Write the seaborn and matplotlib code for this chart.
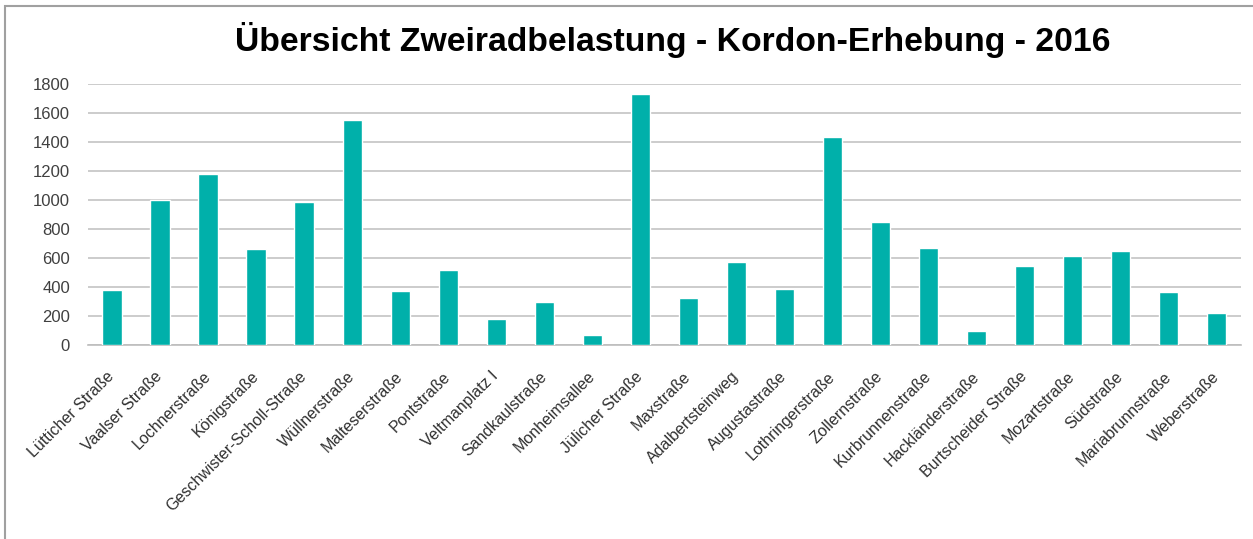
import matplotlib
matplotlib.use("Agg")
import matplotlib.pyplot as plt
import seaborn as sns
import pandas as pd
from matplotlib.patches import Rectangle
from matplotlib.ticker import FixedLocator

strassen = [
    "Lütticher Straße", "Vaalser Straße", "Lochnerstraße", "Königstraße",
    "Geschwister-Scholl-Straße", "Wüllnerstraße", "Malteserstraße", "Pontstraße",
    "Veltmanplatz I", "Sandkaulstraße", "Monheimsallee", "Jülicher Straße",
    "Maxstraße", "Adalbertsteinweg", "Augustastraße", "Lothringerstraße",
    "Zollernstraße", "Kurbrunnenstraße", "Hackländerstraße", "Burtscheider Straße",
    "Mozartstraße", "Südstraße", "Mariabrunnstraße", "Weberstraße",
]
zweiraeder = [
    381, 1000, 1178, 661, 985, 1552, 369, 519,
    181, 294, 71, 1731, 324, 574, 388, 1433,
    847, 666, 94, 542, 611, 650, 363, 218,
]
y_ticks = [0, 200, 400, 600, 800, 1000, 1200, 1400, 1600, 1800]

df = pd.DataFrame({"Strasse": strassen, "Anzahl": zweiraeder})

sns.set_style("white")
plt.rcParams["font.family"] = ["Liberation Sans", "DejaVu Sans"]

fig = plt.figure(figsize=(12.53, 5.39), dpi=100)
ax = fig.add_axes([0.0702, 0.360, 0.9200, 0.484])

sns.barplot(data=df, x="Strasse", y="Anzahl", color="#00b0aa",
            width=0.4, saturation=1, ax=ax, zorder=3)

ax.set_ylim(0, 1800)
ax.set_xlim(-0.5, len(strassen) - 0.5)
ax.set_yticks(y_ticks)
ax.yaxis.grid(True, color="#c4c4c4", linewidth=1.2, zorder=0)
ax.set_xlabel("")
ax.set_ylabel("")

for s in ["top", "right", "left"]:
    ax.spines[s].set_visible(False)
ax.spines["bottom"].set_color("#bdbdbd")
ax.spines["bottom"].set_linewidth(1.2)

ax.tick_params(axis="y", length=5, color="#bdbdbd", labelsize=12,
               labelcolor="#404040", pad=8)
ax.tick_params(axis="x", which="major", length=0, labelsize=11.5,
               labelcolor="#303030", pad=21)
ax.xaxis.set_minor_locator(FixedLocator([i - 0.5 for i in range(len(strassen) + 1)]))
ax.tick_params(axis="x", which="minor", length=5, color="#bdbdbd", width=1.2)
plt.setp(ax.get_xticklabels(), rotation=45, ha="right", va="center",
         rotation_mode="anchor")

fig.text(0.537, 0.905, "Übersicht Zweiradbelastung - Kordon-Erhebung - 2016",
         ha="center", va="baseline", fontsize=24.3, fontweight="bold", color="black")

fig.patches.append(Rectangle((5 / 1253, -0.1), 1.2, 1 - 6 / 539 + 0.1,
                             transform=fig.transFigure, fill=False,
                             edgecolor="#a0a0a0", linewidth=1.5))

fig.savefig("out.png", dpi=100)
